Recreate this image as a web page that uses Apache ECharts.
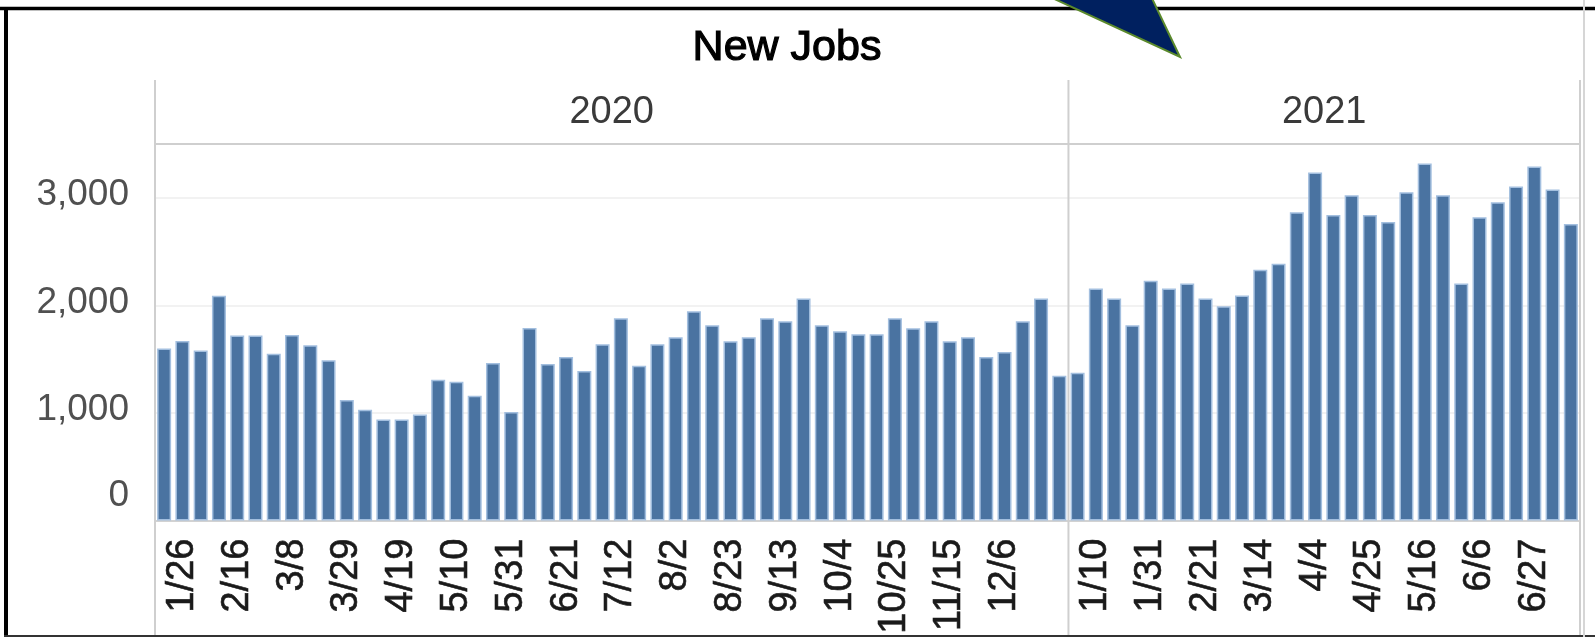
<!DOCTYPE html>
<html>
<head>
<meta charset="utf-8">
<script src="https://cdn.jsdelivr.net/npm/echarts@6/dist/echarts.min.js"></script>
<style>
html,body{margin:0;padding:0;background:#fff;}
#c{width:1595px;height:637px;}
</style>
</head>
<body>
<div id="c"></div>
<script>
// ---- data ----
const titleText = 'New Jobs';
const yearLabels = ['2020', '2021'];
const weeks2020 = ['1/19','1/26','2/2','2/9','2/16','2/23','3/1','3/8','3/15','3/22','3/29','4/5','4/12','4/19','4/26','5/3','5/10','5/17','5/24','5/31','6/7','6/14','6/21','6/28','7/5','7/12','7/19','7/26','8/2','8/9','8/16','8/23','8/30','9/6','9/13','9/20','9/27','10/4','10/11','10/18','10/25','11/1','11/8','11/15','11/22','11/29','12/6','12/13','12/20','12/27'];
const values2020 = [1600,1670,1580,2090,1720,1720,1550,1725,1630,1490,1120,1030,940,940,985,1310,1290,1160,1465,1010,1790,1455,1520,1390,1640,1880,1440,1640,1705,1945,1816,1668,1705,1880,1853,2064,1816,1760,1733,1733,1880,1788,1853,1668,1705,1520,1567,1853,2064,1346];
const weeks2021 = ['1/3','1/10','1/17','1/24','1/31','2/7','2/14','2/21','2/28','3/7','3/14','3/21','3/28','4/4','4/11','4/18','4/25','5/2','5/9','5/16','5/23','5/30','6/6','6/13','6/20','6/27','7/4','7/11'];
const values2021 = [1373,2157,2064,1816,2230,2157,2203,2064,1991,2092,2332,2387,2866,3235,2839,3023,2839,2774,3051,3318,3023,2203,2820,2958,3106,3290,3078,2756];
const tickLabels2020 = ['1/26','2/16','3/8','3/29','4/19','5/10','5/31','6/21','7/12','8/2','8/23','9/13','10/4','10/25','11/15','12/6'];
const tickLabels2021 = ['1/10','1/31','2/21','3/14','4/4','4/25','5/16','6/6','6/27'];
const yTicks = [0, 1000, 2000, 3000];

// ---- chart ----
const categories = weeks2020.concat(weeks2021);
const values = values2020.concat(values2021);
const shown = new Set(tickLabels2020.concat(tickLabels2021));
const FONT = '"Liberation Sans", Arial, sans-serif';

const chart = echarts.init(document.getElementById('c'), null, {renderer: 'canvas'});

const option = {
  animation: false,
  backgroundColor: '#ffffff',
  grid: {left: 155, right: 15, top: 144, bottom: 113, containLabel: false},
  xAxis: {
    type: 'category',
    data: categories,
    axisLine: {show: true, lineStyle: {color: '#d2d2d2', width: 2}},
    axisTick: {show: false},
    axisLabel: {
      interval: function (idx, val) { return shown.has(val); },
      rotate: 90,
      margin: 18,
      fontSize: 38,
      fontFamily: FONT,
      color: '#1a1a1a',
      textBorderColor: '#1a1a1a',
      textBorderWidth: 0.6
    },
    splitLine: {show: false}
  },
  yAxis: {
    type: 'value',
    min: 0,
    max: 3500,
    interval: 1000,
    axisLine: {show: false},
    axisTick: {show: false},
    splitLine: {show: true, lineStyle: {color: '#eeeeee', width: 1.5}},
    axisLabel: {
      margin: 26,
      fontSize: 37,
      fontFamily: FONT,
      color: '#505050',
      formatter: function (v) {
        if (yTicks.indexOf(v) < 0) return '';
        const s = v.toLocaleString('en-US');
        return v === 0 ? '{z|' + s + '}' : '{n|' + s + '}';
      },
      rich: {
        z: {fontSize: 37, fontFamily: FONT, color: '#505050', padding: [0, 0, 50, 0]},
        n: {fontSize: 37, fontFamily: FONT, color: '#505050', padding: [0, 0, 6, 0]}
      }
    }
  },
  series: [{
    type: 'bar',
    data: values,
    barWidth: 14,
    itemStyle: {color: '#4a73a1', borderColor: '#a3bfdf', borderWidth: 1.5},
    silent: true
  }]
};
chart.setOption(option);

// ---- header panes, drawn from the axis scale ----
const px = i => chart.convertToPixel({xAxisIndex: 0}, i);
const slot = px(1) - px(0);
const n2020 = weeks2020.length;
const nAll = categories.length;
const xLeft = px(0) - slot / 2;
const xDiv = (px(n2020 - 1) + px(n2020)) / 2;
const xRight = px(nAll - 1) + slot / 2;
const yTop = chart.convertToPixel({yAxisIndex: 0}, 3500);
const headerTop = yTop - 64;
const lineCol = '#cfcfcf';

const g = [];
[xLeft, xDiv, xRight].forEach(x => {
  g.push({type: 'line', shape: {x1: x, y1: headerTop, x2: x, y2: 640}, style: {stroke: lineCol, lineWidth: 2}, z: 10});
});
g.push({type: 'line', shape: {x1: xLeft, y1: yTop, x2: xRight, y2: yTop}, style: {stroke: lineCol, lineWidth: 2}, z: 10});
g.push({type: 'text', x: (xLeft + xDiv) / 2, y: (headerTop + yTop) / 2 + 1,
  style: {text: yearLabels[0], font: '38px ' + FONT, fill: '#3a3a3a', textAlign: 'center', textVerticalAlign: 'middle'}, z: 10});
g.push({type: 'text', x: (xDiv + xRight) / 2, y: (headerTop + yTop) / 2 + 1,
  style: {text: yearLabels[1], font: '38px ' + FONT, fill: '#3a3a3a', textAlign: 'center', textVerticalAlign: 'middle'}, z: 10});
// title
g.push({type: 'text', x: 787, y: 48,
  style: {text: titleText, font: '43px ' + FONT, fill: '#000000', stroke: '#000000', lineWidth: 1.2, textAlign: 'center', textVerticalAlign: 'middle'}, z: 10});
// frame
g.push({type: 'line', shape: {x1: 0, y1: 8.5, x2: 1595, y2: 8.5}, style: {stroke: '#000', lineWidth: 3.5}, z: 20});
g.push({type: 'line', shape: {x1: 6, y1: 8, x2: 6, y2: 637}, style: {stroke: '#000', lineWidth: 4}, z: 20});
g.push({type: 'line', shape: {x1: 4, y1: 636, x2: 1595, y2: 636}, style: {stroke: '#333', lineWidth: 2}, z: 20});
g.push({type: 'line', shape: {x1: 1584, y1: 0, x2: 1584, y2: 637}, style: {stroke: '#d6d6d6', lineWidth: 2}, z: 20});
// callout arrow
g.push({type: 'polygon', shape: {points: [[1035, -10], [1148, -10], [1180, 57]]},
  style: {fill: '#00205f', stroke: '#5b8a2c', lineWidth: 2}, z: 30});

chart.setOption({graphic: g});
</script>
</body>
</html>
